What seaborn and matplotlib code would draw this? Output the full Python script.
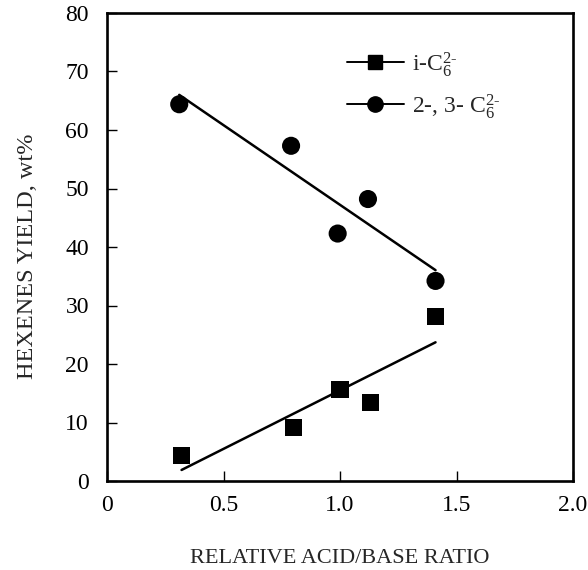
import matplotlib
matplotlib.use("Agg")
import matplotlib.pyplot as plt
import seaborn as sns
import pandas as pd
from matplotlib.lines import Line2D

# ---- data ----
ratio_iso = [0.32, 0.80, 1.00, 1.13, 1.41]
yield_iso = [4.4, 9.1, 15.6, 13.4, 28.2]
ratio_lin = [0.31, 0.79, 0.99, 1.12, 1.41]
yield_lin = [64.4, 57.3, 42.3, 48.2, 34.2]
x_ticks = [0, 0.5, 1.0, 1.5, 2.0]
x_tick_labels = ["0", "0.5", "1.0", "1.5", "2.0"]
y_ticks = [0, 10, 20, 30, 40, 50, 60, 70, 80]
label_iso = r"i-C$_6^{2\text{-}}$"
label_lin = r"2-, 3- C$_6^{2\text{-}}$"

sns.set_style("ticks")
plt.rcParams["font.family"] = ["Liberation Serif", "DejaVu Serif"]
plt.rcParams["mathtext.fontset"] = "custom"
plt.rcParams["mathtext.rm"] = "Liberation Serif"
plt.rcParams["mathtext.it"] = "Liberation Serif:italic"

df_iso = pd.DataFrame({"ratio": ratio_iso, "yield": yield_iso})
df_lin = pd.DataFrame({"ratio": ratio_lin, "yield": yield_lin})

fig = plt.figure(figsize=(5.88, 5.70), dpi=100)
ax = fig.add_axes([107 / 588, 1 - 481 / 570, 466 / 588, 468 / 570])

line_kws = dict(color="black", lw=1.8)
sns.regplot(data=df_iso, x="ratio", y="yield", ci=None, scatter=False,
            truncate=True, line_kws=line_kws, ax=ax)
sns.regplot(data=df_lin, x="ratio", y="yield", ci=None, scatter=False,
            truncate=True, line_kws=line_kws, ax=ax)
sns.scatterplot(data=df_iso, x="ratio", y="yield", marker="s", s=150,
                color="black", edgecolor="none", ax=ax, zorder=3)
sns.scatterplot(data=df_lin, x="ratio", y="yield", marker="o", s=170,
                color="black", edgecolor="none", ax=ax, zorder=3)

ax.set_xlim(0, 2.0)
ax.set_ylim(0, 80)
ax.set_xticks(x_ticks)
ax.set_xticklabels(x_tick_labels)
ax.set_yticks(y_ticks)
ax.tick_params(direction="in", length=7, width=1.0, labelsize=17,
               colors="black", pad=10)
ax.tick_params(axis="y", pad=13)
for s in ax.spines.values():
    s.set_linewidth(1.9)
    s.set_color("black")

ax.set_xlabel("RELATIVE ACID/BASE RATIO", fontsize=16)
ax.set_ylabel("HEXENES YIELD, wt%", fontsize=17.5)
ax.xaxis.set_label_coords(0.5, -0.145)
ax.yaxis.set_label_coords(-0.148, 0.48)

handles = [
    Line2D([], [], color="black", lw=1.4, marker="s", markersize=10),
    Line2D([], [], color="black", lw=1.4, marker="o", markersize=11),
]
ax.legend(handles, [label_iso, label_lin], loc="center left",
          bbox_to_anchor=(0.515, 0.846), frameon=False, fontsize=17,
          handlelength=2.4, handletextpad=0.35, labelspacing=0.55,
          borderpad=0, borderaxespad=0)

fig.savefig("out.png", dpi=100)
